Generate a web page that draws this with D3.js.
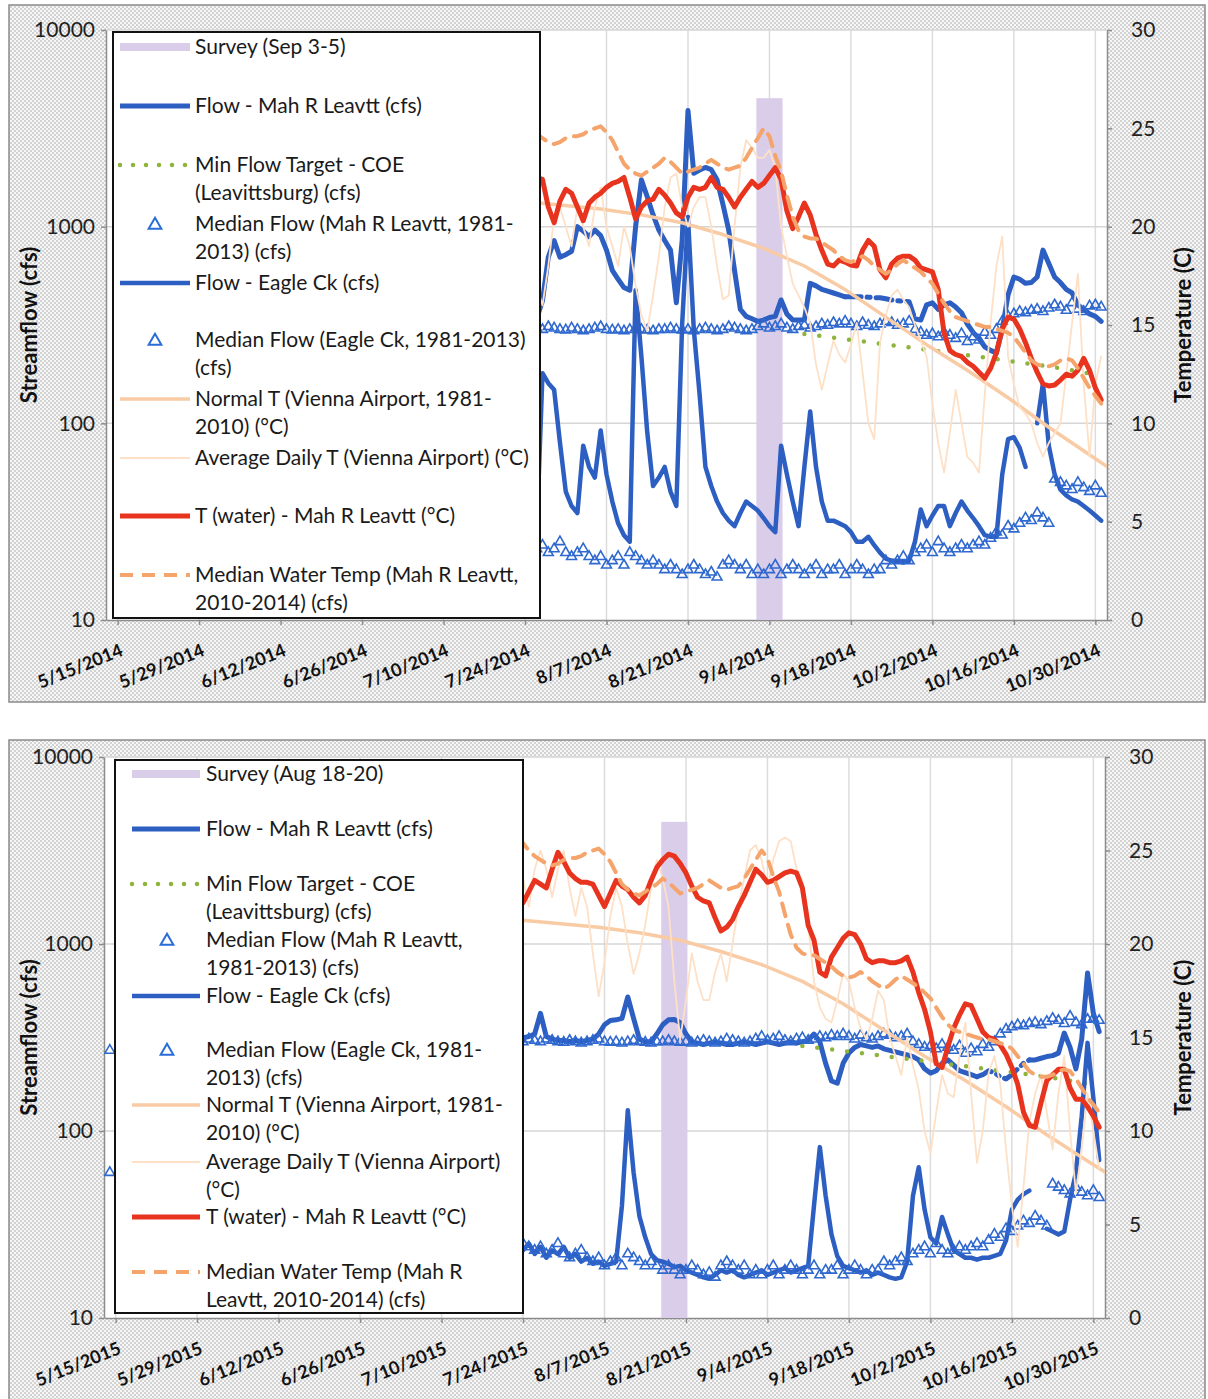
<!DOCTYPE html>
<html>
<head>
<meta charset="utf-8">
<script src="https://cdn.jsdelivr.net/npm/d3@7"></script>
<style>
  body { margin: 0; background: #fff; }
  svg { display: block; }
  text { font-family: Lato, "Open Sans", sans-serif; }
</style>
</head>
<body>
<svg id="chart" width="1208" height="1399"></svg>
<script>
// ---- data ----

// x axis tick labels (month-day, every 14 days)
const tickDays = ["05-15","05-29","06-12","06-26","07-10","07-24","08-07","08-21","09-04","09-18","10-02","10-16","10-30"];

// survey days and the height of the survey column (cfs)
const survey2014 = ["2014-09-03", "2014-09-05"];
const survey2015 = ["2015-08-18", "2015-08-20"];
const surveyHeight = 4500;

// Mah R flow shown as estimated (dash-dot) between these days
const estMah2014 = ["2014-09-17", "2014-09-29"];
const estMah2015 = ["2015-10-10", "2015-10-19"];

// 2014 daily values starting 7/25/2014 (earlier days sit behind the legend)
const start2014 = "2014-07-25";
const flowMah2014 = [330,340,420,700,850,700,720,750,1000,950,
  890,960,900,760,600,540,490,475,1000,1730,
  1420,1150,960,850,760,410,850,3900,1870,1940,
  2000,1950,1730,1300,960,600,380,350,340,330,
  335,345,350,424,360,335,335,335,515,500,
  480,470,460,450,440,440,440,440,438,436,
  435,430,424,420,418,415,340,335,400,410,
  380,400,410,390,365,320,290,270,245,235,
  228,300,450,555,540,515,520,555,760,650,
  555,520,480,460,400,380,360,350,330];
const flowEagle2014 = [26,27,180,160,148,80,45,38,35,77,
  60,53,92,55,40,31,27,25,475,218,
  90,48,53,60,45,38,320,1120,300,140,
  60,48,40,35,32,30,35,40,38,36,
  33,30,28,77,55,40,30,60,115,60,
  40,32,32,31,30,28,25,25,26.5,24,
  22,20.5,20,20,19.6,20,25,36.5,30,34,
  38,38,30,35,40,36,33,30,27,26.5,
  26.5,55,83,85,75,60,null,100,160,77,
  55,46,43,41,40,38,36,34,32];
const tWater2014 = [22.0,22.5,22.4,21.0,20.2,21.3,21.9,21.7,21.0,20.3,
  21.2,21.5,21.7,22.0,22.2,22.3,22.5,21.5,20.4,21.0,
  21.3,21.4,21.9,21.6,21.2,20.7,20.5,21.5,22.0,21.9,
  22.0,22.5,22.0,21.9,21.5,21.0,21.5,21.9,22.3,22.0,
  22.2,22.6,23.0,22.4,20.8,19.9,20.5,21.2,20.6,19.6,
  18.8,18.1,18.0,18.3,18.2,18.05,18.0,18.8,19.3,19.0,
  17.8,17.4,18.1,18.4,18.5,18.5,18.3,17.9,17.8,17.7,
  16.8,14.6,13.7,13.5,13.4,13.1,12.9,12.6,12.3,12.8,
  13.6,14.8,15.4,15.3,14.8,14.1,13.3,12.6,12.0,11.9,
  11.95,12.2,12.5,12.4,12.7,13.3,12.7,11.8,11.2];
const tAir2014 = [19,17,16,18,20.5,21,20,19,21,20,
  19,21,22,20,19,18,20,19,17,15.5,
  14.7,16.5,18.5,21,22.5,22.7,21,20,21,21.5,
  21.5,20,18,16.3,16.5,20,23,24.4,24,23.5,
  23.5,23.9,23,20,18.5,17.1,16.5,15.9,15.1,13,
  11.7,13,14.2,13.5,13.1,14,15.1,12.6,10,9.2,
  14.1,15.5,16.5,16.8,16.3,15.9,15,14.2,13.4,11,
  9,7.5,9.5,11.7,10,8.3,8,7.5,11.5,15.1,
  18,19.5,13.4,12,10.8,10.5,10,9,8.3,9,
  9.5,10,12.5,15.1,17.6,12,8.3,12,13.4];

// 2015 daily values starting 7/23/2015
const start2015 = "2015-07-23";
const flowMah2015 = [310,315,320,330,426,320,310,305,305,300,
  305,300,305,310,330,370,390,393,400,521,
  400,310,300,300,330,370,393,395,380,330,
  300,295,290,295,300,295,290,290,295,300,
  295,290,295,300,295,290,295,300,295,300,
  305,330,300,230,185,180,230,261,280,290,
  285,280,285,275,270,265,260,255,250,240,
  215,204,210,230,240,225,210,205,200,195,
  200,210,205,195,190,200,215,230,240,240,
  245,250,253,261,334,280,215,310,700,426,340];
const flowEagle2015 = [24,23,25,22,24,21,23,22,24,21,
  22,20,21,19.5,20,19,19.5,20,40,129,
  60,35,27,22,20.4,20,19.5,18.7,19,18,
  17.5,17,16.5,16.2,17,18,17.5,18,17,16.5,
  17,17.5,18,17,17.5,18,18.5,17.5,18,18.5,
  19,40,82,45,28,21.4,19,18.5,18,17.5,
  18,17,17.5,17,16.5,16.2,16.5,20,45,64,
  38,27,25,34.7,28,23,22,21,21,20.5,
  21,21,21.5,22,26,38,43,46,48,null,
  null,30,29,28,29,43,60,120,296,150,70];
const tWater2015 = [22.5,22.2,22.8,23.4,23.2,23.0,24.0,24.9,24.4,23.8,
  23.5,23.3,23.3,23.2,22.6,22.0,22.7,23.4,23.1,22.9,
  22.5,22.2,22.6,23.4,24.1,24.5,24.8,24.7,24.3,23.8,
  23.1,22.5,22.3,22.2,21.4,20.7,20.9,21.3,22.0,22.6,
  23.3,24.0,23.7,23.3,23.4,23.6,23.8,23.9,23.8,23.0,
  21.0,20.2,18.5,18.3,19.3,19.8,20.3,20.6,20.5,20.0,
  19.2,19.0,19.1,19.1,19.0,19.0,19.1,19.3,18.5,17.4,
  16.5,15.3,13.6,13.4,14.5,15.5,16.2,16.8,16.7,16.0,
  15.3,15.0,14.9,14.6,14.1,13.4,12.5,11.0,10.3,10.2,
  11.5,12.7,13.0,13.3,13.3,12.3,11.7,11.7,11.3,10.8,10.2];
const tAir2015 = [24,23.5,22,24,25,24,22.5,24,25,23,
  21.5,23,22,19.5,17.2,19,21.5,23,22,20,
  18.4,19.5,21,23,24.5,23.5,22,18,14.9,17,
  19.5,18,17,17,18.5,19.5,18,20,22,23.5,
  25,25.3,24.5,23,24.5,25.5,25.7,25.5,24,23.4,
  21,18,16.6,16,15.8,17,18.4,18,16.6,15.5,
  14.9,16,17.5,17,15,14,13,15,13.5,12.2,
  10,8.8,11,13,12,11.8,14,15.8,12,8.3,
  10,13.1,14,12.5,9,6,3.8,7,10.5,12,
  13,11,9,12,14,10,6.7,9,12,10,8];

// long-term daily medians, from 7/23 (same calendar days both years)
const medianStart = "07-23";
const medianMah = [305,300,310,305,300,310,305,300,298,305,
  300,295,300,305,310,300,298,300,295,300,
  305,300,298,295,300,300,305,300,298,300,
  295,300,305,300,295,300,310,305,300,295,
  300,310,320,305,310,320,305,300,310,315,
  305,310,320,315,325,320,330,320,310,325,
  315,310,320,330,325,315,320,330,300,290,
  280,285,275,290,280,270,285,260,275,265,
  290,280,300,330,350,360,370,365,375,380,
  370,385,400,390,375,410,380,370,395,400,390];
const medianEagle = [24,25,24,23,24,22,23,25,22,21,
  22,23,21,20,21,19,20,21,19,22,
  21,20,19,20,19,18,19,18,17,18,
  19,18,17,17.5,16.5,19,20,19,18,19,
  17,18,17,18,19,17,18,19,18,17,
  18,19,17,18,18,19,17,18,19,18,
  17,18,18,20,19,20,21,20,22,23,
  24,22,25,23,22,23,24,23,24,25,
  24,26,28,27,30,29,31,33,32,35,
  33,31,52,50,48,46,50,47,45,48,44];
const medianWaterT = [25.3,25.4,25.0,24.7,24.5,24.3,24.2,24.3,24.5,24.6,
  24.6,24.7,24.9,25.0,25.1,24.8,24.4,23.8,23.2,22.9,
  22.7,22.6,22.8,23.0,23.2,23.5,23.3,23.0,22.7,22.8,
  22.9,23.0,23.2,23.4,23.2,23.0,22.9,23.0,23.1,23.5,
  24.0,24.5,25.0,24.6,23.6,22.8,21.6,20.5,19.8,19.5,
  19.4,19.4,19.2,19.0,18.8,18.5,18.3,18.2,18.3,18.5,
  18.3,18.0,17.8,17.6,17.8,18.1,18.3,18.1,17.9,17.7,
  17.4,17.1,16.6,16.1,15.7,15.4,15.3,15.2,15.1,15.0,
  14.9,14.9,14.8,14.7,14.6,14.4,14.0,13.6,13.2,13.0,
  12.9,12.9,13.0,13.2,13.3,13.2,12.8,12.3,11.8,11.4,11.0];

// first median markers of 2015 (left edge, next to the legend)
const earlyDays2015 = ["2015-05-14"];
const earlyMedMah2015 = [270];
const earlyMedEagle2015 = [60];

// normal air temperature (weekly) and the COE minimum flow target
const normalDays = ["07-23","07-30","08-06","08-13","08-20","08-27","09-03","09-10","09-17","09-24","10-01","10-08","10-15","10-22","10-29","11-01"];
const normalT = [21.3,21.1,20.9,20.6,20.2,19.6,18.9,18.0,16.8,15.4,14.0,12.7,11.3,9.8,8.4,7.8];
const minFlowDays = ["09-10","09-17","09-24","10-01","10-08","10-15","10-22","10-31"];
const minFlow = [285,268,252,237,222,208,195,175];

// legend texts
const legend2014 = [
  ["Survey (Sep 3-5)"],
  ["Flow - Mah R Leavtt (cfs)"],
  ["Min Flow Target - COE", "(Leavittsburg) (cfs)"],
  ["Median Flow (Mah R Leavtt, 1981-", "2013) (cfs)"],
  ["Flow - Eagle Ck (cfs)"],
  ["Median Flow (Eagle Ck, 1981-2013)", "(cfs)"],
  ["Normal T (Vienna Airport, 1981-", "2010) (°C)"],
  ["Average Daily T (Vienna Airport) (°C)"],
  ["T (water) - Mah R Leavtt (°C)"],
  ["Median Water Temp (Mah R Leavtt,", "2010-2014) (cfs)"]
];
const legend2015 = [
  ["Survey (Aug 18-20)"],
  ["Flow - Mah R Leavtt (cfs)"],
  ["Min Flow Target - COE", "(Leavittsburg) (cfs)"],
  ["Median Flow (Mah R Leavtt,", "1981-2013) (cfs)"],
  ["Flow - Eagle Ck (cfs)"],
  ["Median Flow (Eagle Ck, 1981-", "2013) (cfs)"],
  ["Normal T (Vienna Airport, 1981-", "2010) (°C)"],
  ["Average Daily T (Vienna Airport)", "(°C)"],
  ["T (water) - Mah R Leavtt (°C)"],
  ["Median Water Temp (Mah R", "Leavtt, 2010-2014) (cfs)"]
];

// ---- drawing ----
const svg = d3.select("#chart");
const defs = svg.append("defs");

// grey dotted fill outside the plot area
const pat = defs.append("pattern").attr("id", "dots")
  .attr("width", 4).attr("height", 4).attr("patternUnits", "userSpaceOnUse");
pat.append("rect").attr("width", 4).attr("height", 4).attr("fill", "#f7f7f7");
pat.append("circle").attr("cx", 1).attr("cy", 1).attr("r", 0.8).attr("fill", "#a3a3a3");
pat.append("circle").attr("cx", 3).attr("cy", 3).attr("r", 0.8).attr("fill", "#a3a3a3");

const sty = {
  survey: { stroke: "#d9cdea", width: 8 },
  mah: { stroke: "#2d5fc2", width: 5 },
  minflow: { stroke: "#8fb43c", width: 4.5, dash: "0,15" },
  eagle: { stroke: "#2d5fc2", width: 4.5 },
  normal: { stroke: "#f9cba5", width: 3.5 },
  air: { stroke: "#fde0c6", width: 1.8 },
  water: { stroke: "#e8341e", width: 5 },
  medWT: { stroke: "#f5a46c", width: 4, dash: "13,9" }
};
const triColor = "#2f68cf";

function utc(s) { return new Date(s + "T00:00:00Z"); }
function daily(start, values) {
  return values.map((v, i) => {
    const d = utc(start);
    d.setUTCDate(d.getUTCDate() + i);
    return { date: d, v: v };
  });
}
function byDays(year, days, values) {
  return days.map((s, i) => ({ date: utc(year + "-" + s), v: values[i] }));
}

const panels = [
  { year: 2014, id: "p14", frame: [9, 5, 1196, 697], left: 106, right: 1107, top: 30, bottom: 620,
    start: start2014, mah: flowMah2014, eagle: flowEagle2014, water: tWater2014, air: tAir2014,
    est: estMah2014, survey: survey2014, early: null,
    legend: { x: 113, y: 32, w: 427, h: 586, tx: 195, sx1: 120, sx2: 190, tri: 155,
      rows: [47, 106, 165, 224, 283, 340, 399, 458, 516, 575], labels: legend2014 } },
  { year: 2015, id: "p15", frame: [9, 740, 1196, 700], left: 104, right: 1105, top: 757, bottom: 1318,
    start: start2015, mah: flowMah2015, eagle: flowEagle2015, water: tWater2015, air: tAir2015,
    est: estMah2015, survey: survey2015,
    early: { days: earlyDays2015, mah: earlyMedMah2015, eagle: earlyMedEagle2015 },
    legend: { x: 115, y: 760, w: 408, h: 553, tx: 206, sx1: 132, sx2: 200, tri: 167,
      rows: [774, 829, 884, 940, 996, 1050, 1105, 1162, 1217, 1272], labels: legend2015 } }
];

function pathLine(g, pts, x, y, s) {
  const line = d3.line().defined(d => d.v != null).x(d => x(d.date)).y(d => y(d.v));
  g.append("path").datum(pts).attr("d", line)
    .attr("fill", "none").attr("stroke", s.stroke).attr("stroke-width", s.width)
    .attr("stroke-linejoin", "round").attr("stroke-linecap", "round")
    .attr("stroke-dasharray", s.dash || null);
}
function triangles(g, pts, x, y, size) {
  g.selectAll(null).data(pts).join("path")
    .attr("d", d3.symbol(d3.symbolTriangle, size))
    .attr("transform", d => `translate(${x(d.date)},${y(d.v)})`)
    .attr("fill", "none").attr("stroke", triColor).attr("stroke-width", 1.6);
}

panels.forEach(p => {
  const g = svg.append("g");
  const [fx, fy, fw, fh] = p.frame;
  g.append("rect").attr("x", fx).attr("y", fy).attr("width", fw).attr("height", fh)
    .attr("fill", "url(#dots)").attr("stroke", "#8a8a8a").attr("stroke-width", 1.5);
  g.append("rect").attr("x", p.left).attr("y", p.top)
    .attr("width", p.right - p.left).attr("height", p.bottom - p.top).attr("fill", "#fff");

  const x = d3.scaleUtc().domain([utc(p.year + "-05-13"), utc(p.year + "-11-01")]).range([p.left, p.right]);
  const yF = d3.scaleLog().domain([10, 10000]).range([p.bottom, p.top]);
  const yT = d3.scaleLinear().domain([0, 30]).range([p.bottom, p.top]);
  const ticks = tickDays.map(s => utc(p.year + "-" + s));

  // gridlines
  g.selectAll(null).data(ticks).join("line")
    .attr("x1", d => x(d)).attr("x2", d => x(d)).attr("y1", p.top).attr("y2", p.bottom)
    .attr("stroke", "#dcdcdc").attr("stroke-width", 1.5);
  g.selectAll(null).data([100, 1000, 10000]).join("line")
    .attr("x1", p.left).attr("x2", p.right).attr("y1", d => yF(d)).attr("y2", d => yF(d))
    .attr("stroke", "#d6d6d6").attr("stroke-width", 1.5);

  // axes
  const axL = g.append("g").attr("transform", `translate(${p.left},0)`)
    .call(d3.axisLeft(yF).tickValues([10, 100, 1000, 10000]).tickFormat(d3.format("d"))
      .tickSize(5).tickSizeOuter(0).tickPadding(6));
  const axR = g.append("g").attr("transform", `translate(${p.right},0)`)
    .call(d3.axisRight(yT).tickValues([0, 5, 10, 15, 20, 25, 30])
      .tickSize(5).tickSizeOuter(0).tickPadding(19));
  const axB = g.append("g").attr("transform", `translate(0,${p.bottom})`)
    .call(d3.axisBottom(x).tickValues(ticks).tickFormat(d3.utcFormat("%-m/%-d/%Y"))
      .tickSize(5).tickSizeOuter(0));
  [axL, axR, axB].forEach(a => {
    a.attr("font-family", null).attr("font-size", null);
    a.selectAll(".domain, .tick line").attr("stroke", "#8c8c8c").attr("stroke-width", 1.5);
  });
  [axL, axR].forEach(a => a.selectAll("text").style("font-size", "21px").attr("fill", "#222"));
  axB.selectAll("text")
    .attr("x", 0).attr("y", 0).attr("dy", null)
    .attr("text-anchor", "end")
    .attr("transform", "translate(6,35) rotate(-22)")
    .style("font-size", "18px").style("font-weight", "bold").attr("fill", "#111");

  // axis titles
  const midY = (p.top + p.bottom) / 2;
  g.append("text").attr("transform", `translate(37,${midY}) rotate(-90)`)
    .attr("text-anchor", "middle").style("font-size", "22px").style("font-weight", "bold")
    .attr("fill", "#111").text("Streamflow (cfs)");
  g.append("text").attr("transform", `translate(1191,${midY}) rotate(-90)`)
    .attr("text-anchor", "middle").style("font-size", "22px").style("font-weight", "bold")
    .attr("fill", "#111").text("Temperature (C)");

  // plot content, clipped to the plot area
  defs.append("clipPath").attr("id", "clip-" + p.id).append("rect")
    .attr("x", p.left).attr("y", p.top).attr("width", p.right - p.left).attr("height", p.bottom - p.top);
  const pg = g.append("g").attr("clip-path", `url(#clip-${p.id})`);

  // survey column
  const s0 = utc(p.survey[0]), s1 = utc(p.survey[1]);
  pg.append("rect")
    .attr("x", x(d3.utcHour.offset(s0, -30))).attr("width", x(d3.utcHour.offset(s1, 30)) - x(d3.utcHour.offset(s0, -30)))
    .attr("y", yF(surveyHeight)).attr("height", p.bottom - yF(surveyHeight))
    .attr("fill", sty.survey.stroke);

  // flow - Mah R (solid, estimated part dash-dot)
  const mahPts = daily(p.start, p.mah);
  const e0 = utc(p.est[0]), e1 = utc(p.est[1]);
  pathLine(pg, mahPts.filter(d => d.date <= e0), x, yF, sty.mah);
  pathLine(pg, mahPts.filter(d => d.date >= e0 && d.date <= e1), x, yF,
    { stroke: sty.mah.stroke, width: sty.mah.width, dash: "16,6,3,6" });
  pathLine(pg, mahPts.filter(d => d.date >= e1), x, yF, sty.mah);

  // min flow target
  pathLine(pg, byDays(p.year, minFlowDays, minFlow), x, yF, sty.minflow);

  // medians (markers only)
  const medMahPts = daily(p.year + "-" + medianStart, medianMah);
  const medEagPts = daily(p.year + "-" + medianStart, medianEagle);
  if (p.early) {
    p.early.days.forEach((s, i) => {
      medMahPts.unshift({ date: utc(s), v: p.early.mah[i] });
      medEagPts.unshift({ date: utc(s), v: p.early.eagle[i] });
    });
  }
  triangles(pg, medMahPts, x, yF, 42);
  pathLine(pg, daily(p.start, p.eagle), x, yF, sty.eagle);
  triangles(pg, medEagPts, x, yF, 42);

  // temperatures on the right axis
  pathLine(pg, byDays(p.year, normalDays, normalT), x, yT, sty.normal);
  pathLine(pg, daily(p.start, p.air), x, yT, sty.air);
  pathLine(pg, daily(p.start, p.water), x, yT, sty.water);
  pathLine(pg, daily(p.year + "-" + medianStart, medianWaterT), x, yT, sty.medWT);

  // legend
  const L = p.legend;
  const lg = g.append("g");
  lg.append("rect").attr("x", L.x).attr("y", L.y).attr("width", L.w).attr("height", L.h)
    .attr("fill", "#fff").attr("stroke", "#111").attr("stroke-width", 2);
  const keys = ["survey", "mah", "minflow", "medMah", "eagle", "medEagle", "normal", "air", "water", "medWT"];
  keys.forEach((k, i) => {
    const yy = L.rows[i];
    if (k === "medMah" || k === "medEagle") {
      lg.append("path").attr("d", d3.symbol(d3.symbolTriangle, 70))
        .attr("transform", `translate(${L.tri},${yy + 1})`)
        .attr("fill", "none").attr("stroke", "#2a6dd9").attr("stroke-width", 2);
    } else {
      const s = sty[k];
      lg.append("line").attr("x1", L.sx1).attr("x2", L.sx2).attr("y1", yy).attr("y2", yy)
        .attr("stroke", s.stroke).attr("stroke-width", s.width)
        .attr("stroke-linecap", k === "minflow" ? "round" : "butt")
        .attr("stroke-dasharray", k === "minflow" ? "0,13" : (s.dash || null));
    }
    L.labels[i].forEach((t, j) => {
      lg.append("text").attr("x", L.tx).attr("y", yy + j * 28).attr("dy", "0.35em")
        .style("font-size", "21px").attr("fill", "#1a1a1a").text(t);
    });
  });
});
</script>
</body>
</html>
